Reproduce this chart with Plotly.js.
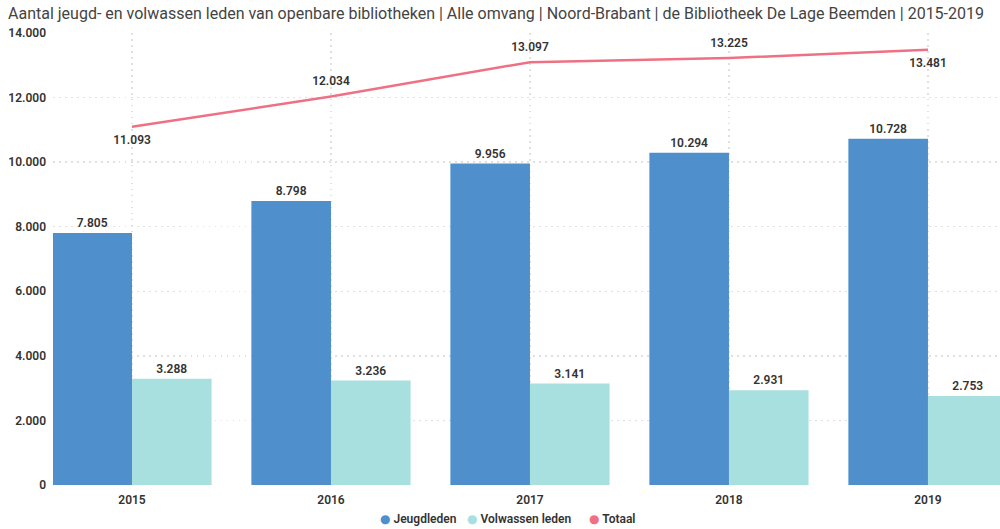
<!DOCTYPE html>
<html>
<head>
<meta charset="utf-8">
<script src="https://cdn.plot.ly/plotly-3.0.1.min.js"></script>
<style>html,body{margin:0;padding:0;background:#fff;}#chart{width:1000px;height:529px;}</style>
</head>
<body>
<div id="chart"></div>
<script>
var years = ['2015', '2016', '2017', '2018', '2019'];
var jeugdleden = [7805, 8798, 9956, 10294, 10728];
var volwassenLeden = [3288, 3236, 3141, 2931, 2753];
var totaal = [11093, 12034, 13097, 13225, 13481];
var totaalLabelPos = ['bottom center', 'top center', 'top center', 'top center', 'bottom center'];
var yTicks = [0, 2000, 4000, 6000, 8000, 10000, 12000, 14000];
var seriesNames = ['Jeugdleden', 'Volwassen leden', 'Totaal'];
var seriesColors = ['#4E8FCC', '#A8E0DF', '#F07083'];

var fontFam = 'Roboto, "DejaVu Sans", sans-serif';
var labelFont = {family: fontFam, size: 12, color: '#333', weight: 600};

function fmt(v) { return v.toString().replace(/\B(?=(\d{3})+(?!\d))/g, '.'); }

var traces = [
  {
    type: 'bar', name: seriesNames[0], x: years, y: jeugdleden,
    marker: {color: seriesColors[0]},
    text: jeugdleden.map(fmt), textposition: 'outside', textfont: labelFont,
    cliponaxis: false, showlegend: false
  },
  {
    type: 'bar', name: seriesNames[1], x: years, y: volwassenLeden,
    marker: {color: seriesColors[1]},
    text: volwassenLeden.map(fmt), textposition: 'outside', textfont: labelFont,
    cliponaxis: false, showlegend: false
  },
  {
    type: 'scatter', mode: 'lines+markers+text', name: seriesNames[2], x: years, y: totaal,
    line: {color: seriesColors[2], width: 2.5},
    marker: {size: 12, opacity: 0, color: seriesColors[2]},
    text: totaal.map(fmt), textposition: totaalLabelPos, textfont: labelFont,
    cliponaxis: false, showlegend: false
  }
];

var legendX = [378, 465, 587];
var annotations = seriesNames.map(function (n, i) {
  return {
    xref: 'paper', yref: 'paper',
    x: (legendX[i] - 53) / 947, y: -(519 - 485) / 452,
    xanchor: 'left', yanchor: 'middle', showarrow: false,
    text: '<span style="color:' + seriesColors[i] + '">●</span> ' + n,
    font: {family: fontFam, size: 12, color: '#333', weight: 600}
  };
});

var layout = {
  width: 1000, height: 529,
  margin: {l: 53, r: 0, t: 33, b: 44},
  paper_bgcolor: '#fff', plot_bgcolor: '#fff',
  separators: ',.',
  font: {family: fontFam, size: 12, color: '#333'},
  title: {
    text: 'Aantal jeugd- en volwassen leden van openbare bibliotheken | Alle omvang | Noord-Brabant | de Bibliotheek De Lage Beemden | 2015-2019',
    x: 0.008, xanchor: 'left', y: 0.985, yanchor: 'top',
    font: {family: fontFam, size: 16, color: '#444'}
  },
  barmode: 'group', bargap: 0.2, bargroupgap: 0,
  xaxis: {
    type: 'category', range: [-0.397, 4.362],
    showgrid: true, gridcolor: '#e0e0e0', griddash: '1.5px,4.5px', gridwidth: 1.5,
    showline: false, zeroline: false, ticks: '', ticklabelstandoff: 6,
    tickfont: {family: fontFam, size: 12, color: '#333', weight: 600}
  },
  yaxis: {
    range: [0, 14000], tickvals: yTicks, ticktext: yTicks.map(fmt),
    showgrid: true, gridcolor: '#e0e0e0', griddash: '1.5px,4.5px', gridwidth: 1.5,
    zeroline: false, showline: false, ticks: '', ticklabelstandoff: 6,
    tickfont: {family: fontFam, size: 12, color: '#333', weight: 600}
  },
  annotations: annotations,
  showlegend: false
};

Plotly.newPlot('chart', traces, layout, {displayModeBar: false, staticPlot: true});
</script>
</body>
</html>
